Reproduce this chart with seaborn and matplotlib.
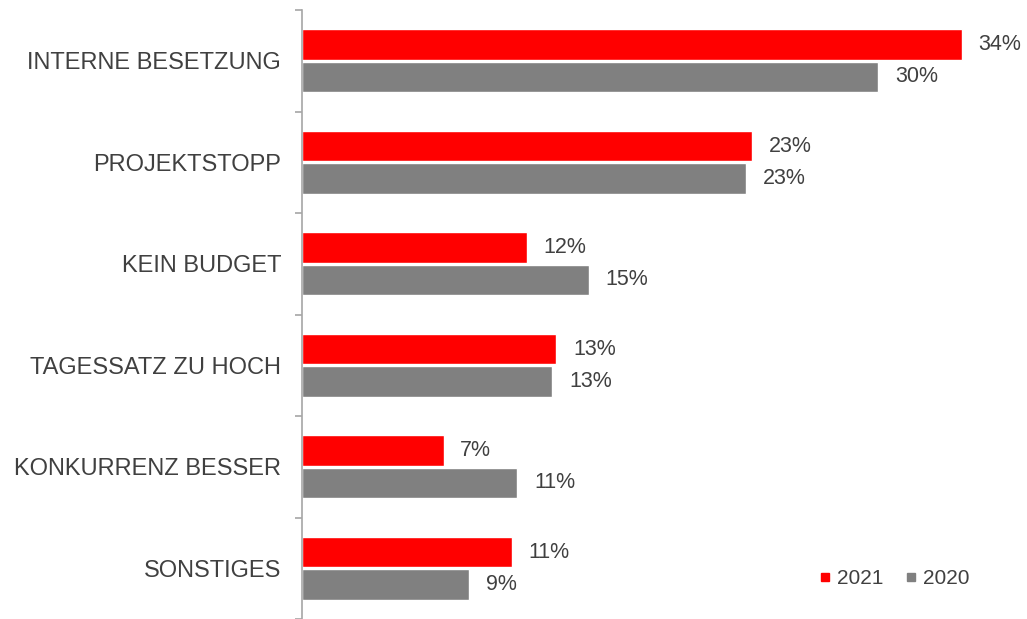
import matplotlib
matplotlib.use("Agg")
from matplotlib import pyplot as plt
from matplotlib.lines import Line2D
import seaborn as sns
import pandas as pd
import numpy as np

categories = ['INTERNE BESETZUNG', 'PROJEKTSTOPP', 'KEIN BUDGET',
              'TAGESSATZ ZU HOCH', 'KONKURRENZ BESSER', 'SONSTIGES']
values_2021 = [34.0, 23.2, 11.6, 13.1, 7.3, 10.8]
values_2020 = [29.7, 22.9, 14.8, 12.9, 11.1, 8.6]
labels_2021 = ['34%', '23%', '12%', '13%', '7%', '11%']
labels_2020 = ['30%', '23%', '15%', '13%', '11%', '9%']
years = ['2021', '2020']
colors = {'2021': '#FF0000', '2020': '#808080'}

df = pd.DataFrame({
    'category': categories * 2,
    'value': values_2021 + values_2020,
    'year': ['2021'] * len(categories) + ['2020'] * len(categories),
})

sns.set_style('white')
plt.rcParams['font.family'] = ['Liberation Sans', 'DejaVu Sans']
text_color = '#404040'

fig = plt.figure(figsize=(10.27, 6.19), dpi=100)
ax = fig.add_axes([302 / 1027, 0, (1020 - 302) / 1027, 1 - 10 / 619])

sns.barplot(data=df, x='value', y='category', hue='year', hue_order=years,
            order=categories, palette=colors, orient='h', width=0.64, gap=0.05,
            ax=ax, legend=False, saturation=1)

# value labels
for container, labels in zip(ax.containers, [labels_2021, labels_2020]):
    ax.bar_label(container, labels=labels, padding=12, fontsize=15.5, color=text_color)

ax.set_xlim(0, 37)
ax.set_ylim(len(categories) - 0.5, -0.5)
ax.set_xlabel('')
ax.set_ylabel('')
ax.set_xticks([])

for side in ['top', 'right', 'bottom']:
    ax.spines[side].set_visible(False)
ax.spines['left'].set_color('#a6a6a6')
ax.spines['left'].set_linewidth(1.2)

ax.set_yticks(range(len(categories)))
ax.set_yticklabels(categories, fontsize=17, color=text_color)
ax.tick_params(axis='y', which='major', length=0, pad=15)
ax.set_yticks(np.arange(-0.5, len(categories)), minor=True)
ax.tick_params(axis='y', which='minor', length=5, width=1.2, color='#a6a6a6', left=True)

handles = [Line2D([], [], marker='s', linestyle='', markersize=6,
                  color=colors[y], label=y) for y in years]
ax.legend(handles=handles, ncol=2, frameon=False, loc='center right',
          bbox_to_anchor=(0.93, 0.066), borderaxespad=0, borderpad=0,
          fontsize=15, handletextpad=0.3, handlelength=0.6,
          columnspacing=1.0, labelcolor=text_color)

fig.savefig('out.png', dpi=100)
